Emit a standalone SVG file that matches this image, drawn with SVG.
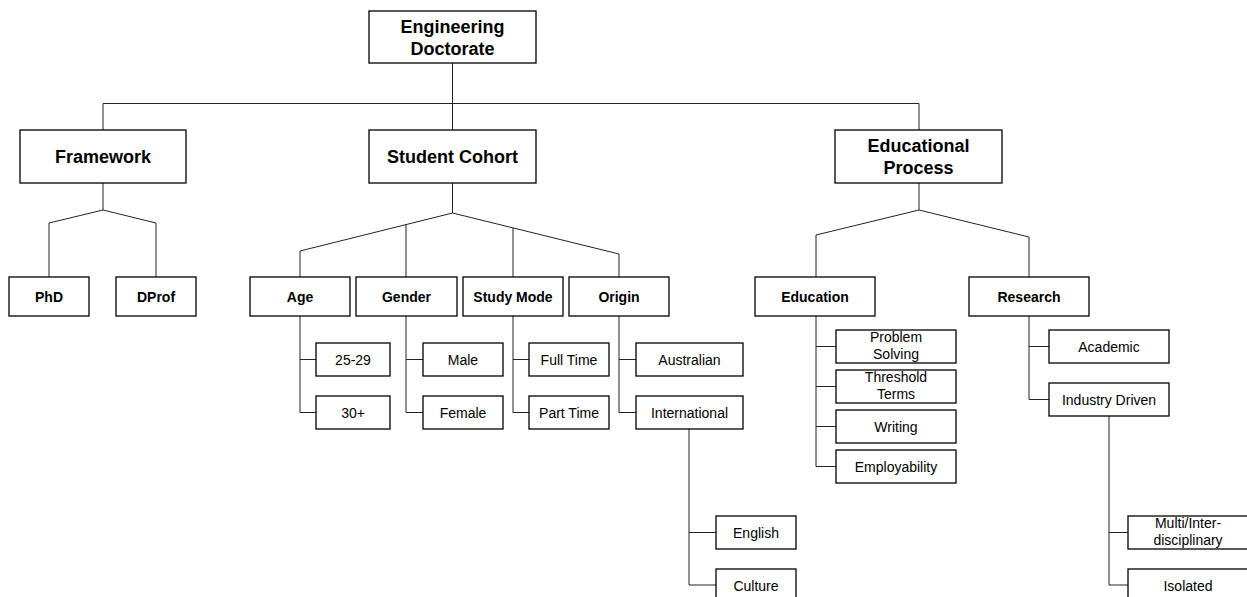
<svg xmlns="http://www.w3.org/2000/svg" width="1247" height="597" viewBox="0 0 1247 597">
<style>
rect{fill:#fff;stroke:#000;stroke-width:1.3}
.c path{fill:none;stroke:#222;stroke-width:1}
text{font-family:"Liberation Sans",Arial,sans-serif;text-anchor:middle;fill:#000}
.h{font-size:18px;font-weight:bold}
.m{font-size:14px;font-weight:bold}
.s{font-size:14px}
</style>
<rect x="0" y="0" width="1247" height="597" style="stroke:none"/>
<g class="c" id="connectors">
<path d="M452.5 63V130M103 103.5H919M103 103.5V130M919 103.5V130"/>
<path d="M103 183V210M103 210L49 223V277M103 210L156 223V277"/>
<path d="M452.5 183V213M452.5 213L300 251V277M406 224.5V277M513 228V277M452.5 213L619 254V277"/>
<path d="M919 183V210M919 210L816 235V277M919 210L1029 237V277"/>
<path d="M300 316V412.5H316M300 359.5H316"/>
<path d="M406 316V412.5H423M406 359.5H423"/>
<path d="M513 316V412.5H529M513 359.5H529"/>
<path d="M619 316V412.5H636M619 359.5H636"/>
<path d="M689 429V585H716M689 532.5H716"/>
<path d="M816 316V466.5H836M816 346.5H836M816 386.5H836M816 426.5H836"/>
<path d="M1029 316V399.5H1049M1029 346.5H1049"/>
<path d="M1109 416V585H1128M1109 532.5H1128"/>
</g>
<g id="n-eng"><rect x="369" y="11" width="167" height="52"/><text class="h" x="452.5" y="33">Engineering</text><text class="h" x="452.5" y="54.5">Doctorate</text></g>
<g id="n-framework"><rect x="20" y="130" width="166" height="53"/><text class="h" x="103" y="163">Framework</text></g>
<g id="n-cohort"><rect x="369" y="130" width="167" height="53"/><text class="h" x="452.5" y="163">Student Cohort</text></g>
<g id="n-process"><rect x="835" y="130" width="167" height="53"/><text class="h" x="918.5" y="151.5">Educational</text><text class="h" x="918.5" y="174">Process</text></g>
<g id="n-phd"><rect x="9" y="277" width="80" height="39"/><text class="m" x="49" y="301.5">PhD</text></g>
<g id="n-dprof"><rect x="116" y="277" width="80" height="39"/><text class="m" x="156" y="301.5">DProf</text></g>
<g id="n-age"><rect x="250" y="277" width="100" height="39"/><text class="m" x="300" y="301.5">Age</text></g>
<g id="n-gender"><rect x="356" y="277" width="101" height="39"/><text class="m" x="406.5" y="301.5">Gender</text></g>
<g id="n-studymode"><rect x="463" y="277" width="100" height="39"/><text class="m" x="513" y="301.5">Study Mode</text></g>
<g id="n-origin"><rect x="569" y="277" width="100" height="39"/><text class="m" x="619" y="301.5">Origin</text></g>
<g id="n-education"><rect x="755" y="277" width="120" height="39"/><text class="m" x="815" y="301.5">Education</text></g>
<g id="n-research"><rect x="969" y="277" width="120" height="39"/><text class="m" x="1029" y="301.5">Research</text></g>
<g id="n-2529"><rect x="316" y="343" width="74" height="33"/><text class="s" x="353" y="364.5">25-29</text></g>
<g id="n-30"><rect x="316" y="396" width="74" height="33"/><text class="s" x="353" y="417.5">30+</text></g>
<g id="n-male"><rect x="423" y="343" width="80" height="33"/><text class="s" x="463" y="364.5">Male</text></g>
<g id="n-female"><rect x="423" y="396" width="80" height="33"/><text class="s" x="463" y="417.5">Female</text></g>
<g id="n-fulltime"><rect x="529" y="343" width="80" height="33"/><text class="s" x="569" y="364.5">Full Time</text></g>
<g id="n-parttime"><rect x="529" y="396" width="80" height="33"/><text class="s" x="569" y="417.5">Part Time</text></g>
<g id="n-australian"><rect x="636" y="343" width="107" height="33"/><text class="s" x="689.5" y="364.5">Australian</text></g>
<g id="n-international"><rect x="636" y="396" width="107" height="33"/><text class="s" x="689.5" y="417.5">International</text></g>
<g id="n-english"><rect x="716" y="516" width="80" height="33"/><text class="s" x="756" y="537.5">English</text></g>
<g id="n-culture"><rect x="716" y="569" width="80" height="33"/><text class="s" x="756" y="590.5">Culture</text></g>
<g id="n-problem"><rect x="836" y="330" width="120" height="33"/><text class="s" x="896" y="342">Problem</text><text class="s" x="896" y="359">Solving</text></g>
<g id="n-threshold"><rect x="836" y="370" width="120" height="33"/><text class="s" x="896" y="382">Threshold</text><text class="s" x="896" y="399">Terms</text></g>
<g id="n-writing"><rect x="836" y="410" width="120" height="33"/><text class="s" x="896" y="431.5">Writing</text></g>
<g id="n-employ"><rect x="836" y="450" width="120" height="33"/><text class="s" x="896" y="471.5">Employability</text></g>
<g id="n-academic"><rect x="1049" y="330" width="120" height="33"/><text class="s" x="1109" y="351.5">Academic</text></g>
<g id="n-industry"><rect x="1049" y="383" width="120" height="33"/><text class="s" x="1109" y="404.5">Industry Driven</text></g>
<g id="n-multi"><rect x="1128" y="516" width="120" height="33"/><text class="s" x="1188" y="528">Multi/Inter-</text><text class="s" x="1188" y="545">disciplinary</text></g>
<g id="n-isolated"><rect x="1128" y="569" width="120" height="33"/><text class="s" x="1188" y="590.5">Isolated</text></g>
</svg>
